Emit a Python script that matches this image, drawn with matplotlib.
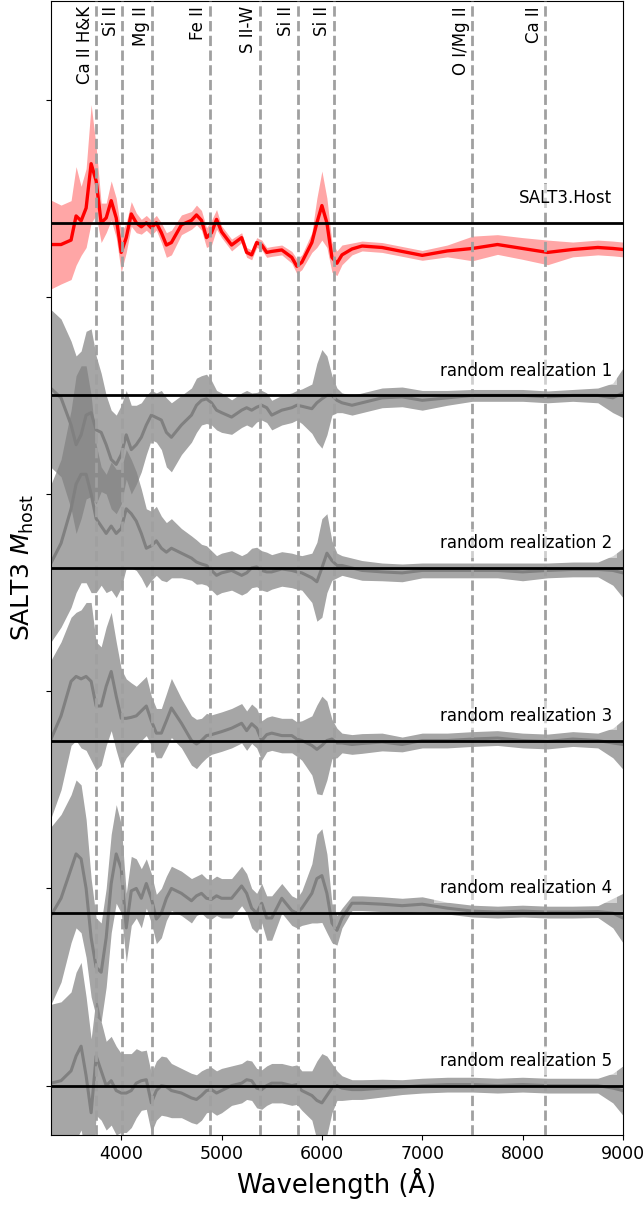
import numpy as np
import matplotlib
matplotlib.use("Agg")
import matplotlib.pyplot as plt

wave = [3300, 3400, 3500, 3550, 3600, 3650, 3700, 3750, 3800, 3850,
        3900, 3950, 4000, 4050, 4100, 4150, 4200, 4250, 4300, 4350,
        4400, 4450, 4500, 4600, 4700, 4750, 4800, 4850, 4900, 4950,
        5000, 5100, 5200, 5250, 5300, 5350, 5400, 5450, 5500, 5600,
        5700, 5750, 5800, 5900, 5950, 6000, 6050, 6100, 6150, 6200,
        6300, 6400, 6600, 6800, 7000, 7250, 7500, 7750, 8000, 8250,
        8500, 8750, 8900, 9000]

host_mean = [-0.044, -0.044, -0.035, 0.014, 0.004, 0.03, 0.12, 0.085, 0.0, 0.01,
             0.045, 0.01, -0.06, -0.03, 0.018, 0.0, -0.008, 0.0, -0.01, 0.0,
             -0.02, -0.045, -0.04, -0.004, 0.005, 0.016, 0.005, -0.03, -0.02, 0.007,
             -0.018, -0.045, -0.03, -0.06, -0.065, -0.04, -0.045, -0.06, -0.058, -0.055,
             -0.07, -0.088, -0.08, -0.04, 0.0, 0.035, 0.0, -0.07, -0.082, -0.065,
             -0.053, -0.047, -0.05, -0.058, -0.066, -0.057, -0.052, -0.044, -0.052, -0.06,
             -0.054, -0.05, -0.052, -0.054]
host_err = [0.09, 0.08, 0.08, 0.1, 0.07, 0.08, 0.12, 0.07, 0.04, 0.03,
            0.04, 0.04, 0.04, 0.03, 0.025, 0.02, 0.015, 0.015, 0.015, 0.015,
            0.02, 0.025, 0.025, 0.02, 0.018, 0.02, 0.02, 0.02, 0.025, 0.02,
            0.012, 0.012, 0.01, 0.01, 0.01, 0.01, 0.01, 0.01, 0.01, 0.01,
            0.012, 0.015, 0.015, 0.02, 0.05, 0.07, 0.05, 0.03, 0.025, 0.02,
            0.012, 0.01, 0.01, 0.01, 0.01, 0.012, 0.025, 0.02, 0.022, 0.025,
            0.015, 0.015, 0.015, 0.015]

r1_mean = [0.014, -0.005, -0.06, -0.1, -0.08, -0.04, -0.035, -0.07, -0.075, -0.1,
           -0.13, -0.14, -0.12, -0.08, -0.11, -0.1, -0.085, -0.06, -0.04, -0.045,
           -0.05, -0.075, -0.085, -0.06, -0.04, -0.02, -0.01, -0.007, -0.015, -0.03,
           -0.035, -0.044, -0.03, -0.025, -0.03, -0.024, -0.02, -0.025, -0.04, -0.03,
           -0.025, -0.02, -0.022, -0.027, -0.015, -0.007, 0.0, 0.0, -0.01, -0.015,
           -0.02, -0.015, -0.005, -0.003, -0.01, -0.005, 0.0, 0.0, 0.0, -0.003,
           0.0, 0.0, -0.005, 0.005]
r1_err = [0.16, 0.16, 0.17, 0.18, 0.17, 0.17, 0.17, 0.15, 0.12, 0.1,
          0.1, 0.1, 0.1, 0.09, 0.09, 0.08, 0.07, 0.06, 0.05, 0.05,
          0.06, 0.07, 0.07, 0.06, 0.055, 0.055, 0.05, 0.05, 0.045, 0.04,
          0.04, 0.035, 0.035, 0.035, 0.035, 0.03, 0.03, 0.03, 0.03, 0.03,
          0.03, 0.03, 0.035, 0.05, 0.08, 0.1, 0.08, 0.04, 0.025, 0.02,
          0.02, 0.02, 0.02, 0.02, 0.02, 0.015, 0.012, 0.012, 0.012, 0.012,
          0.012, 0.015, 0.03, 0.05]

r2_mean = [0.01, 0.05, 0.12, 0.17, 0.19, 0.19, 0.15, 0.1, 0.085, 0.07,
           0.085, 0.07, 0.08, 0.12, 0.11, 0.095, 0.07, 0.04, 0.045, 0.055,
           0.04, 0.032, 0.04, 0.03, 0.02, 0.012, 0.008, 0.005, -0.005, -0.015,
           -0.01, -0.005, -0.015, -0.01, 0.0, 0.002, -0.005, -0.008, -0.008, -0.002,
           -0.005, -0.008, -0.01, -0.02, -0.028, 0.0, 0.03, 0.015, 0.005, 0.005,
           0.0, -0.005, -0.008, -0.01, -0.005, -0.005, -0.005, -0.005, -0.008, -0.005,
           -0.003, -0.003, -0.005, -0.01]
r2_err = [0.16, 0.17, 0.2, 0.22, 0.22, 0.22, 0.2, 0.15, 0.12, 0.12,
          0.13, 0.13, 0.12, 0.12, 0.11, 0.1, 0.09, 0.08, 0.07, 0.07,
          0.065, 0.06, 0.06, 0.05, 0.045, 0.045, 0.04, 0.04, 0.04, 0.04,
          0.04, 0.04, 0.04, 0.04, 0.04, 0.04, 0.04, 0.04, 0.035, 0.035,
          0.035, 0.035, 0.035, 0.05, 0.08, 0.1, 0.08, 0.04, 0.025, 0.02,
          0.02, 0.02, 0.018, 0.018, 0.015, 0.015, 0.015, 0.015, 0.018, 0.015,
          0.015, 0.015, 0.03, 0.05]

r3_mean = [0.003, 0.05, 0.12, 0.13, 0.125, 0.13, 0.12, 0.07, 0.07, 0.11,
           0.14, 0.09, 0.045, 0.045, 0.047, 0.05, 0.06, 0.07, 0.04, 0.015,
           0.015, 0.04, 0.066, 0.035, 0.0, -0.007, 0.0, 0.01, 0.012, 0.015,
           0.018, 0.025, 0.035, 0.02, 0.034, 0.025, 0.0, 0.012, 0.015, 0.01,
           0.01, 0.003, 0.0, -0.01, -0.018, -0.01, 0.0, 0.003, -0.005, -0.005,
           -0.008, -0.006, -0.003, -0.008, 0.0, 0.0, 0.003, 0.005, 0.0, -0.002,
           0.003, 0.0, -0.005, -0.008]
r3_err = [0.16, 0.15, 0.13, 0.13, 0.14, 0.15, 0.16, 0.13, 0.12, 0.12,
          0.12, 0.11, 0.1, 0.08, 0.07, 0.06, 0.06, 0.06, 0.05, 0.05,
          0.05, 0.055, 0.06, 0.05, 0.05, 0.05, 0.045, 0.045, 0.04, 0.04,
          0.04, 0.04, 0.04, 0.04, 0.04, 0.04, 0.04, 0.035, 0.035, 0.035,
          0.035, 0.035, 0.04, 0.06, 0.09, 0.1, 0.08, 0.04, 0.03, 0.02,
          0.02, 0.02, 0.018, 0.015, 0.015, 0.015, 0.015, 0.015, 0.015, 0.015,
          0.015, 0.015, 0.03, 0.05]

r4_mean = [-0.005, 0.03, 0.09, 0.12, 0.11, 0.05, -0.05, -0.11, -0.12, -0.05,
           0.06, 0.12, 0.09, -0.03, 0.045, 0.05, 0.03, 0.06, 0.03, -0.012,
           0.0, 0.03, 0.05, 0.04, 0.025, 0.035, 0.04, 0.03, 0.028, 0.035,
           0.03, 0.03, 0.055, 0.04, 0.01, 0.0, 0.02, -0.01, -0.01, 0.03,
           0.005, 0.0, 0.01, 0.04, 0.07, 0.076, 0.04, -0.02, -0.035, -0.01,
           0.02, 0.02, 0.018, 0.015, 0.018, 0.01, 0.004, 0.002, 0.004, 0.002,
           0.002, 0.003, 0.0, -0.01]
r4_err = [0.18, 0.17, 0.15, 0.15, 0.15, 0.14, 0.12, 0.1, 0.1, 0.1,
          0.1, 0.1, 0.09, 0.07, 0.07, 0.06, 0.06, 0.05, 0.05, 0.05,
          0.05, 0.045, 0.045, 0.045, 0.045, 0.04, 0.04, 0.04, 0.04, 0.04,
          0.04, 0.04, 0.04, 0.04, 0.04, 0.04, 0.04, 0.045, 0.045, 0.03,
          0.03, 0.03, 0.035, 0.06, 0.09, 0.095, 0.08, 0.04, 0.03, 0.02,
          0.015, 0.015, 0.015, 0.015, 0.015, 0.012, 0.012, 0.012, 0.012, 0.012,
          0.012, 0.012, 0.03, 0.05]

r5_mean = [0.005, 0.01, 0.03, 0.06, 0.08, 0.02, -0.055, 0.06, 0.03, 0.0,
           0.01, -0.01, -0.015, -0.015, -0.01, 0.005, 0.01, 0.012, -0.035, -0.01,
           0.0, -0.002, -0.01, -0.015, -0.025, -0.028, -0.02, -0.01, -0.008, -0.015,
           -0.01, 0.0, 0.005, 0.012, 0.01, -0.005, -0.008, 0.0, 0.005, 0.005,
           0.0, 0.002, -0.01, -0.02, -0.03, -0.035, -0.02, -0.005, 0.0, -0.005,
           -0.008, -0.008, -0.005, -0.003, 0.0, 0.002, 0.002, 0.0, 0.002, 0.0,
           0.0, 0.0, -0.005, -0.01]
r5_err = [0.16, 0.16, 0.16, 0.17, 0.17, 0.16, 0.15, 0.12, 0.1, 0.09,
          0.09, 0.09, 0.08, 0.08, 0.075, 0.07, 0.06, 0.06, 0.06, 0.06,
          0.06, 0.06, 0.055, 0.05, 0.05, 0.05, 0.05, 0.045, 0.045, 0.045,
          0.045, 0.04, 0.04, 0.04, 0.04, 0.04, 0.04, 0.04, 0.04, 0.04,
          0.04, 0.04, 0.04, 0.05, 0.08, 0.1, 0.08, 0.05, 0.03, 0.025,
          0.02, 0.02, 0.018, 0.015, 0.015, 0.015, 0.015, 0.015, 0.015, 0.015,
          0.015, 0.015, 0.03, 0.05]

realizations = [(r1_mean, r1_err), (r2_mean, r2_err), (r3_mean, r3_err),
                (r4_mean, r4_err), (r5_mean, r5_err)]

line_names = ['Ca II H&K', 'Si II', 'Mg II', 'Fe II', 'S II-W', 'Si II', 'Si II', 'O I/Mg II', 'Ca II']
line_waves = [3750, 4010, 4310, 4880, 5380, 5760, 6120, 7500, 8225]

step = 0.35
wave = np.array(wave)

fig = plt.figure(figsize=(6.44, 12.07), dpi=100)
ax = fig.add_axes([0.0792, 0.0597, 0.888, 0.9395])

# host component on top
off = 5 * step
m = np.array(host_mean) + off
e = np.array(host_err)
ax.fill_between(wave, m - e, m + e, color='red', alpha=0.35, lw=0)
ax.plot(wave, m, color='red', lw=2.4)
ax.axhline(off, color='k', lw=2, zorder=5)
ax.text(8890, off + 0.05, 'SALT3.Host', ha='right', va='center', fontsize=12,
        bbox=dict(facecolor='white', alpha=0.5, edgecolor='none'), zorder=4)

for i, (mean, err) in enumerate(realizations):
    off = (4 - i) * step
    m = np.array(mean) + off
    e = np.array(err)
    ax.fill_between(wave, m - e, m + e, color='gray', alpha=0.7, lw=0)
    ax.plot(wave, m, color='gray', lw=2.2)
    ax.axhline(off, color='k', lw=2, zorder=5)
    ax.text(8890, off + 0.05, 'random realization %i' % (i + 1), ha='right', va='center',
            fontsize=12, bbox=dict(facecolor='white', alpha=0.5, edgecolor='none'), zorder=4)

for name, w in zip(line_names, line_waves):
    ax.axvline(w, color='#a0a0a0', ls='--', lw=2, zorder=3)
    ax.text(w - 25, 2.19, name, rotation=90, ha='right', va='top', fontsize=12)

ax.set_xlim(3300, 9000)
ax.set_ylim(-0.1, 2.2)
ax.set_yticks(np.arange(0, 2.01, 0.4))
ax.set_yticklabels([])
ax.tick_params(labelsize=12.5)
ax.set_xlabel('Wavelength (Å)', fontsize=18.5)
ax.set_ylabel('SALT3 $M_{\\rm host}$', fontsize=18)

fig.savefig('out.png', dpi=100)
